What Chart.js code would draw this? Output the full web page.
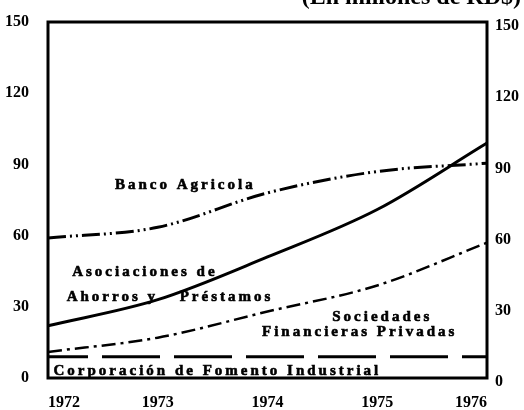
<!DOCTYPE html>
<html>
<head>
<meta charset="utf-8">
<script src="https://cdn.jsdelivr.net/npm/chart.js@4"></script>
<style>
  html, body { margin: 0; padding: 0; background: #fff; }
  #wrap { width: 524px; height: 410px; }
</style>
</head>
<body>
<div id="wrap"><canvas id="chart"></canvas></div>
<script>
// Data (millones de RD$)
const years = ['1972', '1973', '1974', '1975', '1976'];
const bancoAgricola = [59, 63.5, 78, 87, 90.5];
const asociaciones = [22, 33, 51, 71, 99];
const sociedades = [11, 17, 28, 39, 57];
const corporacion = [9, 9, 9, 9, 9];
const yTicks = [0, 30, 60, 90, 120, 150];

// in-plot labels, positioned in data units (x = category index, y = value)
const notes = [
    { text: 'Banco Agricola', x: 0.61, y: 81.3 },
    { text: 'Asociaciones de', x: 0.22, y: 44.7 },
    { text: 'Ahorros y', x: 0.17, y: 34.1 },
    { text: 'Préstamos', x: 1.2, y: 34.1 },
    { text: 'Sociedades', x: 2.59, y: 25.7 },
    { text: 'Financieras Privadas', x: 1.95, y: 19.4 },
    { text: 'Corporación de Fomento Industrial', x: 0.05, y: 3 }
];

const numFont = { family: '"Liberation Serif", serif', size: 16, weight: 'bold' };

const framePlugin = {
    id: 'frame',
    beforeDatasetsDraw(chart) {
        const { ctx, chartArea: a } = chart;
        ctx.save();
        ctx.strokeStyle = '#000';
        ctx.lineWidth = 3;
        ctx.strokeRect(a.left, a.top, a.right - a.left, a.bottom - a.top);
        ctx.restore();
    },
    afterDraw(chart) {
        const { ctx, chartArea: a, scales } = chart;
        const step = (a.right - a.left) / (years.length - 1);
        ctx.save();
        ctx.fillStyle = '#000';
        ctx.strokeStyle = '#000';
        ctx.lineWidth = 0.6;
        ctx.font = 'bold 15px "Liberation Serif", serif';
        ctx.letterSpacing = '3px';
        ctx.textBaseline = 'middle';
        notes.forEach(n => {
            const px = a.left + n.x * step;
            const py = scales.y.getPixelForValue(n.y);
            ctx.fillText(n.text, px, py);
            ctx.strokeText(n.text, px, py);
        });
        // unit note at the top, cut by the page edge as in the scan
        ctx.letterSpacing = '0px';
        ctx.font = 'bold 24px "Liberation Serif", serif';
        ctx.textAlign = 'right';
        ctx.textBaseline = 'alphabetic';
        ctx.fillText('(En millones de RD$)', 521, 4);
        ctx.restore();
    }
};

new Chart(document.getElementById('chart').getContext('2d'), {
    type: 'line',
    data: {
        labels: years,
        datasets: [
            {
                label: 'Banco Agricola',
                data: bancoAgricola,
                borderColor: '#000',
                borderWidth: 3,
                borderDash: [18, 4, 2, 4, 2, 4],
                cubicInterpolationMode: 'monotone',
                pointRadius: 0
            },
            {
                label: 'Asociaciones de Ahorros y Préstamos',
                data: asociaciones,
                borderColor: '#000',
                borderWidth: 3,
                cubicInterpolationMode: 'monotone',
                pointRadius: 0
            },
            {
                label: 'Sociedades Financieras Privadas',
                data: sociedades,
                borderColor: '#000',
                borderWidth: 2.5,
                borderDash: [14, 5, 3, 5],
                cubicInterpolationMode: 'monotone',
                pointRadius: 0
            },
            {
                label: 'Corporación de Fomento Industrial',
                data: corporacion,
                borderColor: '#000',
                borderWidth: 3,
                borderDash: [58, 14],
                borderDashOffset: 18,
                pointRadius: 0
            }
        ]
    },
    options: {
        responsive: true,
        maintainAspectRatio: false,
        animation: false,
        layout: { autoPadding: false, padding: { top: 22, left: 0, right: 0, bottom: 0 } },
        plugins: { legend: { display: false }, tooltip: { enabled: false } },
        scales: {
            x: {
                offset: false,
                grid: { display: false },
                border: { display: false },
                ticks: { color: '#000', font: numFont, align: 'inner', padding: 7, maxRotation: 0 },
                afterFit(s) { s.height = 32; }
            },
            y: {
                position: 'left',
                min: 0,
                max: 150,
                afterBuildTicks(s) { s.ticks = yTicks.map(v => ({ value: v })); },
                grid: { display: false },
                border: { display: false },
                ticks: { color: '#000', font: numFont, padding: 11 },
                afterFit(s) { s.width = 48; }
            },
            y2: {
                position: 'right',
                min: 0,
                max: 150,
                afterBuildTicks(s) { s.ticks = yTicks.map(v => ({ value: v })); },
                grid: { display: false },
                border: { display: false },
                ticks: { color: '#000', font: numFont, padding: 0, labelOffset: 4 },
                afterFit(s) { s.width = 37; }
            }
        }
    },
    plugins: [framePlugin]
});
</script>
</body>
</html>
